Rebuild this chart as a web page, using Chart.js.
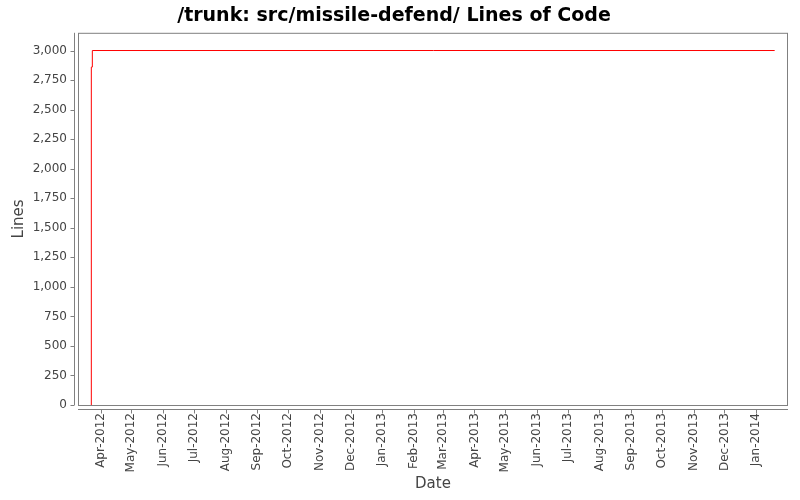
<!DOCTYPE html>
<html>
<head>
<meta charset="utf-8">
<title>/trunk: src/missile-defend/ Lines of Code</title>
<script src="https://cdn.jsdelivr.net/npm/chart.js@4.4.1/dist/chart.umd.min.js"></script>
<style>
    html, body { margin: 0; padding: 0; background: #fff; }
    #wrap { width: 800px; height: 500px; }
</style>
</head>
<body>
<div id="wrap"><canvas id="locChart" width="800" height="500"></canvas></div>
<script>
// Data
const dates = ['2012-03-23', '2012-03-23', '2012-03-24', '2014-01-19'];
const lines = [0, 2860, 3000, 3000];

// Tick labels
const monthTicks = ['Apr-2012', 'May-2012', 'Jun-2012', 'Jul-2012', 'Aug-2012', 'Sep-2012',
    'Oct-2012', 'Nov-2012', 'Dec-2012', 'Jan-2013', 'Feb-2013', 'Mar-2013', 'Apr-2013',
    'May-2013', 'Jun-2013', 'Jul-2013', 'Aug-2013', 'Sep-2013', 'Oct-2013', 'Nov-2013',
    'Dec-2013', 'Jan-2014'];
const yTicks = [0, 250, 500, 750, 1000, 1250, 1500, 1750, 2000, 2250, 2500, 2750, 3000];

// Axis range
const xStart = '2012-03-10';
const xEnd = '2014-02-01';
const yMax = 3150;

const MONTHS = ['Jan', 'Feb', 'Mar', 'Apr', 'May', 'Jun', 'Jul', 'Aug', 'Sep', 'Oct', 'Nov', 'Dec'];

// Days since epoch, so a plain linear scale works without a date adapter
function toDay(s) {
    const p = s.split('-').map(Number);
    return Date.UTC(p[0], p[1] - 1, p[2]) / 86400000;
}
function monthToDay(label) {
    const [m, y] = label.split('-');
    return Date.UTC(Number(y), MONTHS.indexOf(m), 1) / 86400000;
}

const points = dates.map((d, i) => ({ x: toDay(d), y: lines[i] }));
const tickDays = monthTicks.map(monthToDay);

const axisGrey = '#808080';
const textGrey = '#444444';

// Plot frame plus the offset axis lines and tick marks
const framePlugin = {
    id: 'frame',
    afterDraw(chart) {
        const { ctx, chartArea: a, scales } = chart;
        ctx.save();
        ctx.strokeStyle = axisGrey;
        ctx.lineWidth = 1;
        ctx.strokeRect(a.left + 0.5, a.top + 0.5, a.right - a.left - 1, a.bottom - a.top);

        ctx.beginPath();
        // y axis
        const ax = Math.round(a.left - 4) + 0.5;
        ctx.moveTo(ax, a.top);
        ctx.lineTo(ax, a.bottom);
        scales.y.ticks.forEach(t => {
            const py = Math.round(scales.y.getPixelForValue(t.value)) + 0.5;
            ctx.moveTo(ax - 4, py);
            ctx.lineTo(ax, py);
        });
        // x axis
        const ay = Math.round(a.bottom + 4) + 0.5;
        ctx.moveTo(a.left, ay);
        ctx.lineTo(a.right, ay);
        scales.x.ticks.forEach(t => {
            const px = Math.round(scales.x.getPixelForValue(t.value)) + 0.5;
            ctx.moveTo(px, ay);
            ctx.lineTo(px, ay + 4);
        });
        ctx.stroke();
        ctx.restore();
    }
};

const ctx = document.getElementById('locChart').getContext('2d');
new Chart(ctx, {
    type: 'line',
    data: {
        datasets: [{
            label: 'Lines',
            data: points,
            borderColor: '#ff0000',
            borderWidth: 1,
            pointRadius: 0,
            stepped: 'before',
            fill: false
        }]
    },
    options: {
        responsive: false,
        animation: false,
        devicePixelRatio: 1,
        layout: { padding: { left: 0, right: 12, top: 0, bottom: 0 } },
        plugins: {
            legend: { display: false },
            tooltip: { enabled: false },
            title: {
                display: true,
                text: '/trunk: src/missile-defend/ Lines of Code',
                color: '#000',
                font: { family: 'DejaVu Sans', size: 19, weight: 'bold' },
                padding: { top: 5, bottom: 5 }
            }
        },
        scales: {
            x: {
                type: 'linear',
                min: toDay(xStart),
                max: toDay(xEnd),
                grid: { display: false },
                border: { display: false },
                afterBuildTicks: scale => {
                    scale.ticks = tickDays.map(v => ({ value: v }));
                },
                afterFit: scale => { scale.height = 95; },
                ticks: {
                    autoSkip: false,
                    minRotation: 90,
                    maxRotation: 90,
                    padding: 0,
                    color: textGrey,
                    font: { family: 'DejaVu Sans', size: 12 },
                    callback: v => {
                        const i = tickDays.indexOf(v);
                        return i >= 0 ? monthTicks[i] : '';
                    }
                },
                title: {
                    display: true,
                    text: 'Date',
                    color: textGrey,
                    font: { family: 'DejaVu Sans', size: 15 },
                    padding: { top: 0, bottom: 7 }
                }
            },
            y: {
                min: 0,
                max: yMax,
                grid: { display: false },
                border: { display: false },
                afterBuildTicks: scale => {
                    scale.ticks = yTicks.map(v => ({ value: v }));
                },
                afterFit: scale => { scale.width = 78; },
                ticks: {
                    padding: 3,
                    color: textGrey,
                    font: { family: 'DejaVu Sans', size: 12 },
                    callback: v => v.toLocaleString('en-US')
                },
                title: {
                    display: true,
                    text: 'Lines',
                    color: textGrey,
                    font: { family: 'DejaVu Sans', size: 15 },
                    padding: { top: 10, bottom: 0 }
                }
            }
        }
    },
    plugins: [framePlugin]
});
</script>
</body>
</html>
